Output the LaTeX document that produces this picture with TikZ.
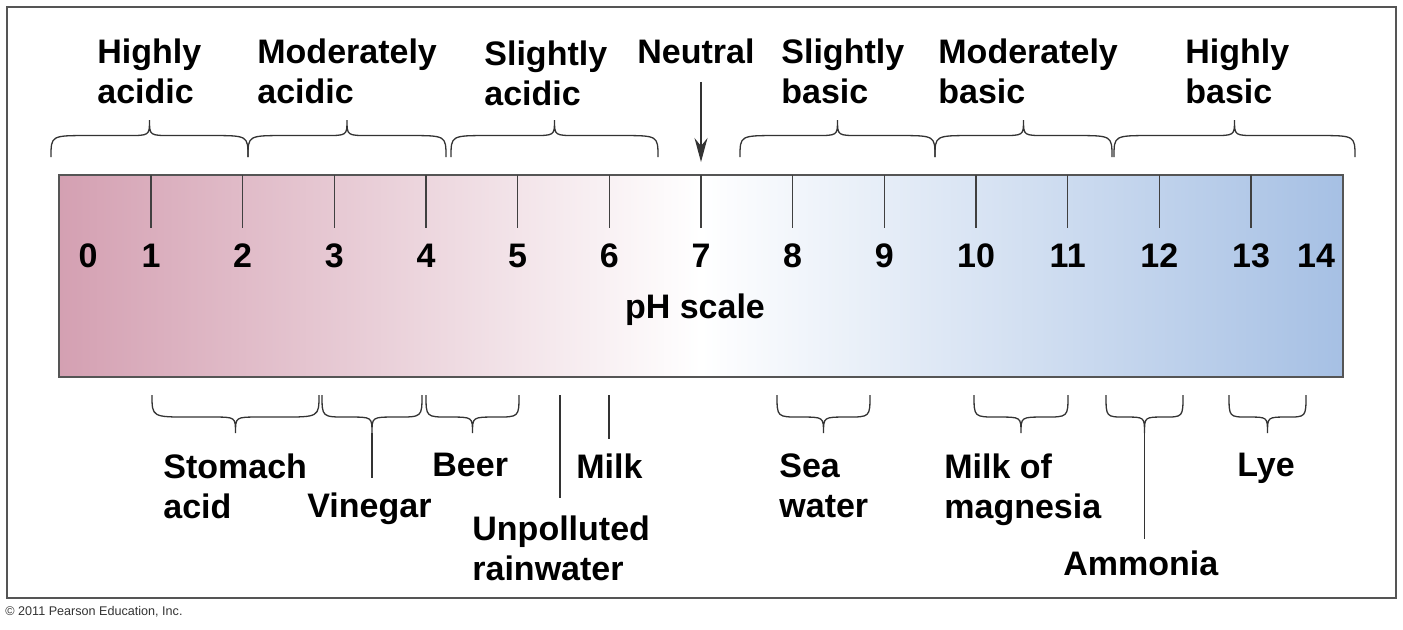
\documentclass[tikz,border=0pt]{standalone}
\usepackage{fontspec}
\setmainfont{Liberation Sans}
\usetikzlibrary{arrows.meta,calc,positioning}
\definecolor{acidpink}{RGB}{212,160,178}
\definecolor{basicblue}{RGB}{166,192,228}
\definecolor{rulegray}{RGB}{85,85,85}
% brace from x=#1 to x=#2, ends at y=#3, tip at y=#4, tip named #5
\newcommand{\phbrace}[5]{%
  \pgfmathsetmacro{\brmid}{(#1+#2)/2}
  \pgfmathsetmacro{\brflat}{#3+0.58*(#4-#3)}
  \pgfmathsetmacro{\brend}{min(abs(#4-#3),(#2-#1)/4)}
  \pgfmathsetmacro{\brtip}{min(0.6*abs(#4-#3),(#2-#1)/4)}
  \draw[bracepath] (#1,#3) .. controls (#1,\brflat) .. (#1+\brend,\brflat)
    -- (\brmid-\brtip,\brflat) .. controls (\brmid,\brflat) .. (\brmid,#4) coordinate (#5)
    .. controls (\brmid,\brflat) .. (\brmid+\brtip,\brflat)
    -- (#2-\brend,\brflat) .. controls (#2,\brflat) .. (#2,#3);}

\begin{document}
\begin{tikzpicture}[x=0.5pt,y=-0.5pt,
  phlabel/.style={font=\bfseries\fontsize{17}{20}\selectfont,inner sep=0pt,align=left,anchor=north west},
  phnum/.style={font=\bfseries\fontsize{17}{20}\selectfont,inner sep=0pt},
  bracepath/.style={line width=0.65pt,black!80},
  pointer/.style={line width=0.6pt,black!80}]
\useasboundingbox (0,0) rectangle (1403,629);
\draw[line width=0.8pt,rulegray] (7,7) rectangle (1396,598);
\node[font=\fontsize{6.3}{7}\selectfont,text=black!80,inner sep=0pt,anchor=west] (copy) at (5,612) {\textcopyright{} 2011 Pearson Education, Inc.};

% the scale bar
\shade[left color=acidpink,right color=basicblue,middle color=white] (59.33,175) rectangle (1342.67,377);
\draw[line width=1.1pt,rulegray] (59.33,175) rectangle (1342.67,377);
\foreach \k in {1,...,13}{
  \draw[line width=0.6pt,black!75] (59.33+91.67*\k,175) coordinate (tick\k) -- ++(0,53);
  \node[phnum] (n\k) at (59.33+91.67*\k,256) {\k};}
\node[phnum] (n0) at (88,256) {0};
\node[phnum] (n14) at (1316,256) {14};
\node[phnum,anchor=base] (scale) at (695,318) {pH scale};

% top groups
\node[phlabel] (hacid) at (97,38) {Highly\\acidic};
\node[phlabel] (macid) at (257,38) {Moderately\\acidic};
\node[phlabel] (sacid) at (484,40) {Slightly\\acidic};
\node[phlabel] (neutral) at (637,38) {Neutral};
\node[phlabel] (sbasic) at (781,38) {Slightly\\basic};
\node[phlabel] (mbasic) at (938,38) {Moderately\\basic};
\node[phlabel] (hbasic) at (1185,38) {Highly\\basic};
\phbrace{51}{248}{157}{120}{hacidtip}
\phbrace{248}{446}{157}{120}{macidtip}
\phbrace{451}{658}{157}{120}{sacidtip}
\phbrace{740}{935}{157}{120}{sbasictip}
\phbrace{935}{1112}{157}{120}{mbasictip}
\phbrace{1114}{1355}{157}{120}{hbasictip}
\coordinate (neutraltip) at (701,162);
\draw[pointer,-{Stealth[length=12pt,width=6.5pt,inset=4pt]},shorten <=9pt] (neutral.south -| neutraltip) -- (neutraltip);

% everyday substances
\node[phlabel] (stomach) at (163,453) {Stomach\\acid};
\node[phlabel] (vinegar) at (307,492) {Vinegar};
\node[phlabel] (beer) at (432,453) {Beer};
\node[phlabel] (milk) at (576,453) {Milk};
\node[phlabel] (rain) at (472,515) {Unpolluted\\rainwater};
\node[phlabel] (sea) at (779,453) {Sea\\water};
\node[phlabel] (magnesia) at (944,453) {Milk of\\magnesia};
\node[phlabel] (ammonia) at (1063,550) {Ammonia};
\node[phlabel] (lye) at (1237,453) {Lye};
\phbrace{152}{319}{395}{433}{stomachtip}
\phbrace{322}{422}{395}{433}{vinegartip}
\phbrace{426}{519}{395}{433}{beertip}
\phbrace{777}{870}{395}{433}{seatip}
\phbrace{974}{1068}{395}{433}{magnesiatip}
\phbrace{1106}{1183}{395}{433}{ammoniatip}
\phbrace{1229}{1306}{395}{433}{lyetip}
\coordinate (raintop) at (560,395);
\coordinate (milktop) at (609,395);
\draw[pointer,shorten >=7pt] (vinegartip) -- (vinegartip |- vinegar.north);
\draw[pointer,shorten >=5.5pt] (ammoniatip) -- (ammoniatip |- ammonia.north);
\draw[pointer,shorten >=8.5pt] (raintop) -- (raintop |- rain.north);
\draw[pointer,shorten >=7pt] (milktop) -- (milktop |- milk.north);
\end{tikzpicture}
\end{document}
